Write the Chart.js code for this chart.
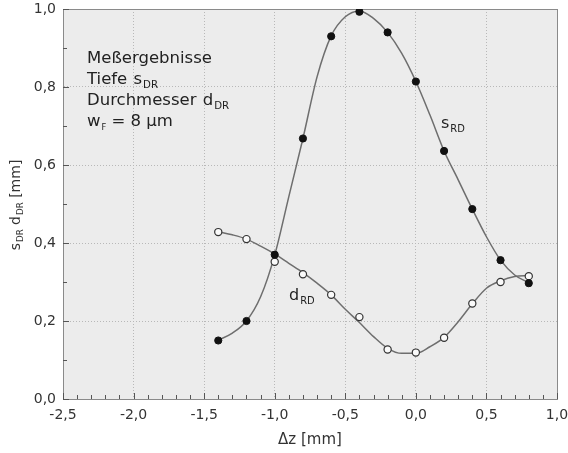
<!DOCTYPE html>
<html>
<head>
<meta charset="utf-8">
<script src="https://cdn.jsdelivr.net/npm/chart.js@4.4.0/dist/chart.umd.min.js"></script>
<style>
  html, body { margin: 0; padding: 0; background: #fff; }
  canvas { display: block; }
</style>
</head>
<body>
<canvas id="depthChart" width="568" height="453"></canvas>
<script>
// Messpunkte: Fokuslage dz [mm]
const dz = [-1.4, -1.2, -1.0, -0.8, -0.6, -0.4, -0.2, 0.0, 0.2, 0.4, 0.6, 0.8];
// Tiefe s_RD [mm]
const sRD = [0.15, 0.20, 0.37, 0.668, 0.93, 0.993, 0.94, 0.814, 0.636, 0.487, 0.356, 0.297];
// Durchmesser d_RD [mm]
const dRD = [0.428, 0.41, 0.352, 0.32, 0.267, 0.21, 0.127, 0.119, 0.157, 0.245, 0.30, 0.315];

// Ausgleichskurven
const fitX = [-1.4, -1.3, -1.2, -1.1, -1.0, -0.9, -0.8, -0.7, -0.6, -0.5, -0.4, -0.3,
  -0.2, -0.1, 0.0, 0.1, 0.2, 0.3, 0.4, 0.5, 0.6, 0.7, 0.8];
const sFit = [0.151, 0.169, 0.20, 0.262, 0.369, 0.519, 0.668, 0.826, 0.931, 0.98, 0.995, 0.976,
  0.94, 0.886, 0.814, 0.728, 0.636, 0.562, 0.487, 0.416, 0.356, 0.318, 0.298];
const dFit = [0.429, 0.421, 0.41, 0.392, 0.372, 0.348, 0.324, 0.297, 0.267, 0.23, 0.196, 0.16,
  0.13, 0.117, 0.117, 0.134, 0.158, 0.198, 0.244, 0.284, 0.303, 0.314, 0.317];

const xMin = -2.5, xMax = 1.0, xMajor = 0.5;
const yMin = 0, yMax = 1.0, yMajor = 0.2;

const noteLines = [
  [{ t: 'Meßergebnisse' }],
  [{ t: 'Tiefe ' }, { t: 's' }, { t: 'DR', sub: true }],
  [{ t: 'Durchmesser ' }, { t: 'd' }, { t: 'DR', sub: true }],
  [{ t: 'w' }, { t: 'F', sub: true, small: true }, { t: ' = 8 µm' }]
];
const yTitle = [{ t: 's' }, { t: 'DR', sub: true }, { t: ' d' }, { t: 'DR', sub: true }, { t: ' [mm]' }];
const sLabel = [{ t: 's' }, { t: 'RD', sub: true }];
const dLabel = [{ t: 'd' }, { t: 'RD', sub: true }];

const FONT = "'DejaVu Sans', sans-serif";

function isMajor(v, step) {
  const r = v / step;
  return Math.abs(r - Math.round(r)) < 1e-6;
}

function fmt(v) {
  if (Math.abs(v) < 1e-9) v = 0;
  return v.toFixed(1).replace('.', ',');
}

function toXY(xs, ys) {
  return xs.map((x, i) => ({ x: x, y: ys[i] }));
}

// Text mit Tiefstellung zeichnen
function richWidth(ctx, parts, size) {
  let w = 0;
  parts.forEach(p => {
    ctx.font = (p.sub ? (p.small ? size * 0.5 : size * 0.62) : size) + 'px ' + FONT;
    w += ctx.measureText(p.t).width;
  });
  return w;
}

function drawRich(ctx, parts, x, y, size) {
  parts.forEach(p => {
    const s = p.sub ? (p.small ? size * 0.5 : size * 0.62) : size;
    ctx.font = s + 'px ' + FONT;
    ctx.fillText(p.t, x, p.sub ? y + size * 0.22 : y);
    x += ctx.measureText(p.t).width + (p.sub ? 0 : 1);
  });
}

const plotFrame = {
  id: 'plotFrame',
  beforeDraw(chart) {
    const { ctx, chartArea: a } = chart;
    ctx.save();
    ctx.fillStyle = '#ececec';
    ctx.fillRect(a.left, a.top, a.right - a.left, a.bottom - a.top);
    ctx.restore();
  },
  beforeDatasetsDraw(chart) {
    const { ctx, chartArea: a, scales } = chart;
    ctx.save();
    ctx.strokeStyle = '#8a8a8a';
    ctx.lineWidth = 1;
    ctx.strokeRect(Math.round(a.left) + 0.5, Math.round(a.top) + 0.5,
      Math.round(a.right - a.left), Math.round(a.bottom - a.top));

    // Teilstriche nach innen
    ctx.strokeStyle = '#555';
    ctx.beginPath();
    scales.x.ticks.forEach((t, i) => {
      const px = Math.round(scales.x.getPixelForTick(i)) + 0.5;
      const len = isMajor(t.value, xMajor) ? 6 : 4;
      ctx.moveTo(px, a.bottom);
      ctx.lineTo(px, a.bottom - len);
    });
    scales.y.ticks.forEach((t, i) => {
      const py = Math.round(scales.y.getPixelForTick(i)) + 0.5;
      const len = isMajor(t.value, yMajor) ? 6 : 4;
      ctx.moveTo(a.left, py);
      ctx.lineTo(a.left + len, py);
    });
    ctx.stroke();
    ctx.restore();
  },
  afterDraw(chart) {
    const { ctx } = chart;
    ctx.save();
    ctx.fillStyle = '#222';
    ctx.textBaseline = 'alphabetic';
    const bases = [63, 84, 105, 126];
    noteLines.forEach((ln, i) => drawRich(ctx, ln, 87, bases[i], 16.5));

    drawRich(ctx, sLabel, 441, 128, 16);
    drawRich(ctx, dLabel, 289, 300, 16);

    // Achsentitel y
    ctx.fillStyle = '#333';
    const w = richWidth(ctx, yTitle, 14);
    ctx.translate(20, 206);
    ctx.rotate(-Math.PI / 2);
    drawRich(ctx, yTitle, -w / 2, 0, 14);
    ctx.restore();
  }
};

const lineStyle = {
  showLine: true,
  borderColor: '#6e6e6e',
  borderWidth: 1.5,
  cubicInterpolationMode: 'monotone',
  pointRadius: 0,
  order: 2
};

const ctx = document.getElementById('depthChart').getContext('2d');

new Chart(ctx, {
  type: 'scatter',
  data: {
    datasets: [
      Object.assign({ label: 'sRD Kurve', data: toXY(fitX, sFit) }, lineStyle),
      Object.assign({ label: 'dRD Kurve', data: toXY(fitX, dFit) }, lineStyle),
      {
        label: 'dRD',
        data: toXY(dz, dRD),
        showLine: false,
        pointRadius: 3.6,
        pointBackgroundColor: '#fafafa',
        pointBorderColor: '#333',
        pointBorderWidth: 1.2,
        order: 1
      },
      {
        label: 'sRD',
        data: toXY(dz, sRD),
        showLine: false,
        pointRadius: 3.6,
        pointBackgroundColor: '#111',
        pointBorderColor: '#111',
        pointBorderWidth: 1,
        order: 0
      }
    ]
  },
  options: {
    responsive: false,
    animation: false,
    layout: { padding: { top: 9, right: 11, left: 0, bottom: 0 } },
    plugins: {
      legend: { display: false },
      tooltip: { enabled: false }
    },
    scales: {
      x: {
        type: 'linear',
        min: xMin,
        max: xMax,
        afterFit: s => { s.height = 54; s.paddingLeft = 0; s.paddingRight = 0; },
        border: { color: '#555', width: 1, dash: [1, 2] },
        grid: {
          drawTicks: false,
          color: c => (c.tick && isMajor(c.tick.value, xMajor) ? '#b8b8b8' : 'transparent')
        },
        ticks: {
          stepSize: 0.1,
          autoSkip: false,
          maxRotation: 0,
          padding: 8,
          color: '#333',
          font: { family: FONT, size: 14 },
          callback: v => (isMajor(v, xMajor) ? fmt(v) : '')
        },
        title: {
          display: true,
          text: 'Δz [mm]',
          color: '#333',
          font: { family: FONT, size: 15 },
          padding: { top: 0, bottom: 4 }
        }
      },
      y: {
        min: yMin,
        max: yMax,
        afterFit: s => { s.width = 63; s.paddingTop = 0; s.paddingBottom = 0; },
        border: { color: '#555', width: 1, dash: [1, 2] },
        grid: {
          drawTicks: false,
          color: c => (c.tick && isMajor(c.tick.value, yMajor) ? '#b8b8b8' : 'transparent')
        },
        ticks: {
          stepSize: 0.1,
          autoSkip: false,
          padding: 7,
          color: '#333',
          font: { family: FONT, size: 14 },
          callback: v => (isMajor(v, yMajor) ? fmt(v) : '')
        }
      }
    }
  },
  plugins: [plotFrame]
});
</script>
</body>
</html>
